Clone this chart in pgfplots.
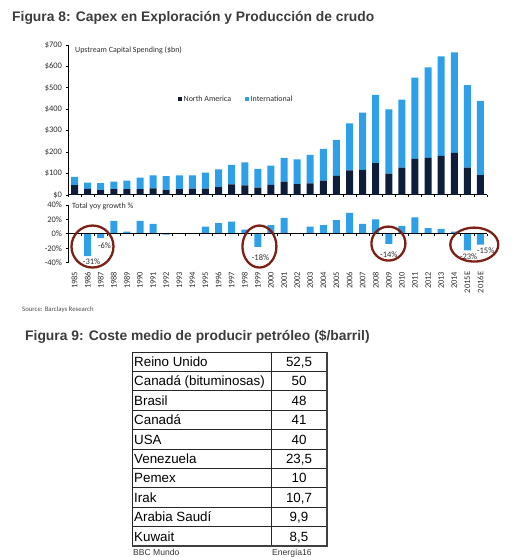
\documentclass[border=0pt]{standalone}
\usepackage{pgfplots}
\usepackage{pgfplotstable}
\pgfplotsset{compat=1.18}
\usepackage{fontspec}
\setmainfont{Liberation Sans}
\newfontfamily\chartfont{Carlito}
\definecolor{navyc}{RGB}{14,30,58}
\definecolor{intl}{RGB}{46,160,232}
\definecolor{circ}{RGB}{125,32,22}
\definecolor{ttl}{RGB}{60,60,60}
\definecolor{txt}{RGB}{45,45,45}

\pgfplotstableread{
x na intl g
0 46 39 0
1 28 30 -31
2 23 32 -6
3 27 35 18
4 27 40 3
5 27 54 18
6 31 61 14
7 23 65 -1
8 27 65 1
9 30 62 1
10 30 74 10
11 37 83 15
12 50 91 17
13 45 107 6
14 34 88 -18
15 47 90 12
16 62 111 22
17 51 115 0
18 54 133 10
19 67 148 12
20 89 168 19
21 115 219 29
22 117 267 14
23 149 318 20
24 100 300 -14
25 128 317 11
26 168 380 23
27 173 423 8
28 182 465 7
29 196 470 3
30 128 385 -23
31 93 346 -15
}\capex

\begin{document}
\begin{tikzpicture}
\path[use as bounding box] (0,0) rectangle (517bp,557bp);
\node[anchor=base west, font=\fontsize{13.9}{16}\selectfont\bfseries, text=ttl, inner sep=0] at (12bp,535.3bp) {Figura 8: Capex en Exploración y Producción de crudo};

\begin{axis}[
  at={(68bp,362bp)}, anchor=south west, scale only axis, width=419bp, height=150bp,
  xmin=-0.5, xmax=31.5, ymin=0, ymax=700,
  ybar stacked, bar width=7bp,
  axis x line*=bottom, axis y line*=left, axis line style={-, line width=1bp},
  xtick=\empty, ytick pos=left,
  ytick={0,100,...,700}, yticklabels={\$0,\$100,\$200,\$300,\$400,\$500,\$600,\$700},
  tick align=outside, major tick length=2.5bp, tick style={black, line width=0.8bp},
  tick label style={font=\chartfont\fontsize{8.5}{9}\selectfont, text=txt},
  legend style={draw=none, fill=none, at={(rel axis cs:0.255,0.64)}, anchor=west,
    font=\chartfont\fontsize{8}{9}\selectfont, text=txt, legend columns=2,
    /tikz/every even column/.append style={column sep=12bp}},
  clip=false,
]
\addplot[fill=navyc, draw=none, legend image code/.code={\fill[navyc] (0bp,-1.8bp) rectangle (3.6bp,1.8bp);}] table[x=x,y=na]{\capex};
\addlegendentry{North America}
\addplot[fill=intl, draw=none, legend image code/.code={\fill[intl] (0bp,-1.8bp) rectangle (3.6bp,1.8bp);}] table[x=x,y=intl]{\capex};
\addlegendentry{International}
\pgfplotsinvokeforeach{0,...,32}{\draw[line width=0.8bp] (axis cs:#1-0.5,0) -- ([yshift=-2.5bp]axis cs:#1-0.5,0);}
\end{axis}
\node[anchor=west, font=\chartfont\fontsize{8}{9}\selectfont, text=txt, inner sep=0] at (75bp,507bp) {Upstream Capital Spending (\$bn)};

\begin{axis}[
  at={(68bp,294.3bp)}, anchor=south west, scale only axis, width=419bp, height=57.7bp,
  xmin=-0.5, xmax=31.5, ymin=-40, ymax=40,
  ybar, bar width=7bp,
  axis x line*=bottom, axis y line*=left, x axis line style={draw=none}, y axis line style={-, line width=1bp},
  xtick={0,...,31}, xtick pos=bottom, ytick pos=left,
  xticklabels={1985,1986,1987,1988,1989,1990,1991,1992,1993,1994,1995,1996,1997,1998,1999,2000,2001,2002,2003,2004,2005,2006,2007,2008,2009,2010,2011,2012,2013,2014,2015E,2016E},
  xticklabel style={rotate=90, anchor=east}, xticklabel shift=3bp,
  major x tick style={draw=none}, x tick style={draw=none},
  ytick={-40,-20,0,20,40}, yticklabels={-40\%,-20\%,0\%,20\%,40\%},
  tick align=outside, major tick length=2.5bp, y tick style={black, line width=0.8bp},
  tick label style={font=\chartfont\fontsize{8.5}{9}\selectfont, text=txt},
  clip=false,
]
\addplot[fill=intl, draw=none] table[x=x,y=g]{\capex};
\draw[line width=1bp] (axis cs:-0.5,0) -- (axis cs:31.5,0);
\pgfplotsinvokeforeach{0,...,32}{\draw[line width=0.8bp] (axis cs:#1-0.5,0) -- ([yshift=-2.5bp]axis cs:#1-0.5,0);}
\draw[circ, line width=2.3bp] (axis cs:1.37,-17.6) ellipse [x radius=21bp, y radius=21bp];
\draw[circ, line width=2.3bp] (axis cs:14.12,-17.6) ellipse [x radius=17bp, y radius=21bp];
\draw[circ, line width=2.3bp] (axis cs:23.97,-13.5) ellipse [x radius=17bp, y radius=17bp];
\draw[circ, line width=2.3bp] (axis cs:30.53,-14.9) ellipse [x radius=24bp, y radius=17bp];
\begin{scope}[every node/.style={font=\chartfont\fontsize{8.5}{9}\selectfont, text=txt, inner sep=0}]
\node at (axis cs:1.3,-38.5) {-31\%};
\node at (axis cs:2.29,-16.3) {-6\%};
\node at (axis cs:14.2,-33) {-18\%};
\node at (axis cs:24.0,-28.8) {-14\%};
\node at (axis cs:30.1,-31.5) {-23\%};
\node at (axis cs:31.4,-23) {-15\%};
\end{scope}
\end{axis}
\node[anchor=west, font=\chartfont\fontsize{8}{9}\selectfont, text=txt, inner sep=0] at (72bp,351bp) {Total yoy growth \%};

\node[anchor=west, font=\chartfont\fontsize{6.8}{8}\selectfont, text=black!70, inner sep=0] at (22bp,247bp) {Source: Barclays Research};

\node[anchor=base west, font=\fontsize{13.9}{16}\selectfont\bfseries, text=ttl, inner sep=0] at (25bp,216bp) {Figura 9: Coste medio de producir petróleo (\$/barril)};

% table
\foreach \k in {0,...,10}{\draw[line width=0.8bp, black!85] (132bp,{205bp-\k*19.4bp}) -- (327bp,{205bp-\k*19.4bp});}
\draw[line width=0.8bp, black!85] (132bp,205bp) -- (132bp,11bp);
\draw[line width=0.8bp, black!85] (271bp,205bp) -- (271bp,11bp);
\draw[line width=1.8bp, black!75] (327bp,205bp) -- (327bp,11bp);
\draw[line width=1.8bp, black!75] (132bp,11bp) -- (328bp,11bp);
\begin{scope}[every node/.style={font=\fontsize{13.4}{15}\selectfont, text=black, inner sep=0}]
\node[anchor=base west] at (134bp,190.5bp) {Reino Unido};
\node[anchor=base west] at (134bp,171.1bp) {Canadá (bituminosas)};
\node[anchor=base west] at (134bp,151.7bp) {Brasil};
\node[anchor=base west] at (134bp,132.3bp) {Canadá};
\node[anchor=base west] at (134bp,112.9bp) {USA};
\node[anchor=base west] at (134bp,93.5bp) {Venezuela};
\node[anchor=base west] at (134bp,74.1bp) {Pemex};
\node[anchor=base west] at (134bp,54.7bp) {Irak};
\node[anchor=base west] at (134bp,35.3bp) {Arabia Saudí};
\node[anchor=base west] at (134bp,15.9bp) {Kuwait};
\node[anchor=base] at (299bp,190.5bp) {52,5};
\node[anchor=base] at (299bp,171.1bp) {50};
\node[anchor=base] at (299bp,151.7bp) {48};
\node[anchor=base] at (299bp,132.3bp) {41};
\node[anchor=base] at (299bp,112.9bp) {40};
\node[anchor=base] at (299bp,93.5bp) {23,5};
\node[anchor=base] at (299bp,74.1bp) {10};
\node[anchor=base] at (299bp,54.7bp) {10,7};
\node[anchor=base] at (299bp,35.3bp) {9,9};
\node[anchor=base] at (299bp,15.9bp) {8,5};
\end{scope}
\node[anchor=base west, font=\fontsize{8.6}{10}\selectfont, text=black!80, inner sep=0] at (133bp,1.5bp) {BBC Mundo};
\node[anchor=base west, font=\fontsize{8.6}{10}\selectfont, text=black!80, inner sep=0] at (272bp,1.5bp) {Energía16};
\end{tikzpicture}
\end{document}
